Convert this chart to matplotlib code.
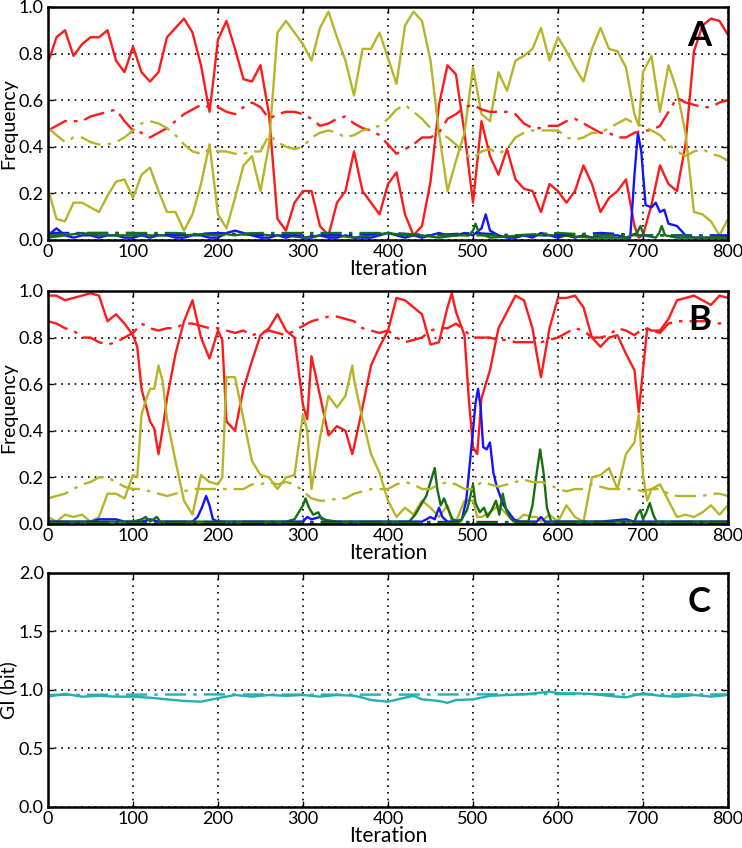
import matplotlib
matplotlib.use("Agg")
import matplotlib.pyplot as plt

plt.rcParams['font.family'] = ['Lato', 'DejaVu Sans']

# ---------------- panel A ----------------
a_iter = sorted(list(range(0, 801, 10)) + [195, 695])
a_red = [0.76, 0.87, 0.90, 0.79, 0.84, 0.87, 0.87, 0.90, 0.77, 0.72,
         0.83, 0.72, 0.68, 0.72, 0.87, 0.91, 0.95, 0.89, 0.75, 0.55,
         0.70, 0.86, 0.94, 0.82, 0.69, 0.68, 0.75, 0.54, 0.09, 0.04,
         0.16, 0.21, 0.21, 0.06, 0.02, 0.16, 0.21, 0.38, 0.21, 0.16,
         0.11, 0.24, 0.29, 0.11, 0.02, 0.06, 0.25, 0.58, 0.75, 0.71,
         0.46, 0.16, 0.51, 0.36, 0.28, 0.39, 0.26, 0.22, 0.21, 0.12,
         0.24, 0.21, 0.16, 0.21, 0.32, 0.24, 0.12, 0.18, 0.21, 0.26,
         0.06, 0.01, 0.02, 0.15, 0.32, 0.24, 0.21, 0.41, 0.81, 0.92,
         0.95, 0.94, 0.88]
a_olive = [0.22, 0.09, 0.08, 0.16, 0.16, 0.14, 0.12, 0.19, 0.25, 0.26,
           0.18, 0.28, 0.31, 0.21, 0.12, 0.12, 0.04, 0.11, 0.24, 0.41,
           0.26, 0.11, 0.05, 0.18, 0.32, 0.36, 0.21, 0.41, 0.89, 0.94,
           0.89, 0.84, 0.77, 0.91, 0.98, 0.87, 0.77, 0.62, 0.82, 0.82,
           0.89, 0.78, 0.67, 0.92, 0.98, 0.94, 0.77, 0.46, 0.21, 0.34,
           0.46, 0.74, 0.54, 0.51, 0.72, 0.64, 0.77, 0.79, 0.82, 0.91,
           0.77, 0.87, 0.81, 0.74, 0.68, 0.82, 0.91, 0.82, 0.81, 0.74,
           0.54, 0.49, 0.72, 0.79, 0.55, 0.75, 0.64, 0.46, 0.12, 0.11,
           0.08, 0.02, 0.09]

dd_iter = list(range(0, 801, 10))
a_red_dd = [0.47, 0.49, 0.51, 0.51, 0.51, 0.53, 0.54, 0.55, 0.56, 0.51,
            0.47, 0.46, 0.44, 0.46, 0.48, 0.51, 0.54, 0.56, 0.58, 0.57,
            0.57, 0.55, 0.54, 0.57, 0.59, 0.57, 0.52, 0.54, 0.55, 0.55,
            0.54, 0.52, 0.49, 0.50, 0.52, 0.53, 0.50, 0.48, 0.47, 0.45,
            0.41, 0.37, 0.39, 0.41, 0.44, 0.44, 0.46, 0.52, 0.54, 0.57,
            0.58, 0.56, 0.55, 0.55, 0.55, 0.54, 0.50, 0.48, 0.48, 0.49,
            0.49, 0.51, 0.52, 0.50, 0.48, 0.46, 0.46, 0.44, 0.44, 0.46,
            0.47, 0.47, 0.49, 0.55, 0.61, 0.59, 0.58, 0.57, 0.57, 0.59,
            0.60]
a_olive_dd = [0.48, 0.45, 0.42, 0.44, 0.44, 0.42, 0.41, 0.41, 0.42, 0.44,
              0.47, 0.50, 0.51, 0.50, 0.48, 0.45, 0.41, 0.38, 0.37, 0.39,
              0.38, 0.38, 0.37, 0.37, 0.38, 0.38, 0.45, 0.42, 0.40, 0.39,
              0.40, 0.44, 0.46, 0.47, 0.46, 0.44, 0.45, 0.47, 0.48, 0.49,
              0.52, 0.56, 0.58, 0.55, 0.52, 0.48, 0.46, 0.44, 0.41, 0.37,
              0.35, 0.38, 0.39, 0.37, 0.39, 0.44, 0.46, 0.47, 0.47, 0.47,
              0.47, 0.44, 0.43, 0.44, 0.46, 0.46, 0.48, 0.50, 0.52, 0.50,
              0.49, 0.47, 0.45, 0.41, 0.38, 0.36, 0.38, 0.39, 0.37, 0.36,
              0.34]

a_blue_x = [0, 10, 20, 30, 40, 50, 60, 70, 80, 90, 100, 110, 120, 130, 140,
            150, 160, 170, 180, 190, 200, 210, 220, 230, 240, 250, 260, 270,
            280, 290, 300, 310, 320, 330, 340, 350, 360, 370, 380, 390, 400,
            410, 420, 430, 440, 450, 460, 470, 480, 490, 500, 510, 515, 520,
            530, 540, 550, 560, 570, 580, 590, 600, 610, 620, 630, 640, 650,
            660, 670, 680, 685, 690, 694, 698, 703, 710, 715, 720, 725, 730,
            740, 745, 750, 760, 770, 780, 790, 800]
a_blue = [0.02, 0.05, 0.02, 0.01, 0.02, 0.02, 0.01, 0.02, 0.02, 0.01, 0.01,
          0.02, 0.01, 0.02, 0.02, 0.01, 0.01, 0.02, 0.02, 0.01, 0.01, 0.03,
          0.04, 0.03, 0.02, 0.01, 0.01, 0.02, 0.01, 0.02, 0.01, 0.01, 0.02,
          0.01, 0.01, 0.02, 0.01, 0.01, 0.01, 0.02, 0.03, 0.02, 0.01, 0.02,
          0.01, 0.02, 0.03, 0.02, 0.02, 0.03, 0.02, 0.05, 0.11, 0.04, 0.02,
          0.01, 0.01, 0.02, 0.01, 0.03, 0.02, 0.01, 0.02, 0.01, 0.02, 0.01,
          0.02, 0.02, 0.02, 0.01, 0.01, 0.28, 0.46, 0.38, 0.15, 0.14, 0.16,
          0.12, 0.13, 0.07, 0.06, 0.04, 0.02, 0.01, 0.01, 0.01, 0.01, 0.02]
a_green_x = [0, 20, 40, 60, 80, 100, 130, 160, 200, 220, 240, 260, 280, 300,
             320, 340, 360, 380, 400, 420, 440, 460, 480, 495, 500, 503, 507,
             520, 560, 600, 640, 680, 693, 697, 701, 715, 719, 722, 726, 740,
             800]
a_green = [0.01, 0.02, 0.03, 0.02, 0.02, 0.02, 0.02, 0.02, 0.03, 0.02, 0.03,
           0.02, 0.02, 0.01, 0.02, 0.02, 0.01, 0.02, 0.03, 0.02, 0.02, 0.01,
           0.02, 0.02, 0.04, 0.07, 0.03, 0.01, 0.02, 0.02, 0.01, 0.01, 0.03,
           0.06, 0.02, 0.01, 0.03, 0.06, 0.02, 0.01, 0.01]
small_dd_x = [0, 50, 100, 150, 200, 250, 300, 350, 400, 450, 500, 550, 600,
              650, 700, 750, 800]
a_blue_dd = [0.03, 0.03, 0.03, 0.02, 0.03, 0.02, 0.02, 0.02, 0.03, 0.02,
             0.03, 0.02, 0.02, 0.03, 0.02, 0.02, 0.02]
a_green_dd = [0.02, 0.03, 0.03, 0.03, 0.02, 0.03, 0.03, 0.03, 0.03, 0.02,
              0.02, 0.02, 0.03, 0.02, 0.02, 0.02, 0.01]

# ---------------- panel B ----------------
b_iter = sorted(list(range(0, 801, 10)) +
                [105, 115, 125, 135, 205, 305, 358, 475, 495, 505, 575, 695, 705])
b_red = [0.98, 0.98, 0.96, 0.97, 0.98, 0.99, 0.98, 0.87, 0.90, 0.86,
         0.81, 0.76, 0.58, 0.51, 0.44, 0.41, 0.30, 0.41, 0.54, 0.73,
         0.87, 0.96, 0.80, 0.71, 0.83, 0.79, 0.44, 0.40, 0.58, 0.70,
         0.81, 0.84, 0.90, 0.83, 0.80, 0.51, 0.45, 0.72, 0.55, 0.38,
         0.42, 0.40, 0.30, 0.33, 0.50, 0.68, 0.76, 0.83,
         0.97, 0.96, 0.93, 0.90, 0.77, 0.78, 0.93, 0.99, 0.91, 0.81,
         0.54, 0.33, 0.30, 0.54, 0.66, 0.84, 0.91, 0.98, 0.96, 0.84,
         0.73, 0.63, 0.84, 0.97, 0.97, 0.98, 0.93, 0.80, 0.76, 0.80,
         0.81, 0.73, 0.66, 0.48, 0.66, 0.84, 0.83, 0.83, 0.88, 0.96,
         0.97, 0.98, 0.96, 0.94, 0.98, 0.97]
b_olive = [0.03, 0.01, 0.04, 0.03, 0.04, 0.01, 0.03, 0.13, 0.13, 0.11,
           0.21, 0.20, 0.47, 0.53, 0.58, 0.58, 0.68, 0.61, 0.45, 0.27,
           0.10, 0.04, 0.21, 0.18, 0.17, 0.20, 0.63, 0.63, 0.45, 0.27,
           0.21, 0.20, 0.15, 0.20, 0.21, 0.47, 0.40, 0.15, 0.37, 0.55,
           0.50, 0.55, 0.68, 0.62, 0.45, 0.30, 0.22, 0.10,
           0.03, 0.07, 0.04, 0.10, 0.07, 0.03, 0.08, 0.01, 0.01, 0.10,
           0.10, 0.10, 0.03, 0.03, 0.05, 0.08, 0.04, 0.01, 0.04, 0.03,
           0.03, 0.01, 0.04, 0.01, 0.08, 0.03, 0.01, 0.20, 0.21, 0.24,
           0.15, 0.30, 0.35, 0.47, 0.21, 0.10, 0.15, 0.17, 0.10, 0.03,
           0.04, 0.03, 0.05, 0.08, 0.04, 0.08]
b_red_dd = [0.87, 0.86, 0.84, 0.83, 0.80, 0.80, 0.78, 0.77, 0.78, 0.80,
            0.82, 0.86, 0.84, 0.83, 0.84, 0.84, 0.86, 0.86, 0.85, 0.84,
            0.84, 0.83, 0.82, 0.83, 0.81, 0.82, 0.83, 0.82, 0.81, 0.83,
            0.85, 0.87, 0.88, 0.89, 0.89, 0.88, 0.87, 0.84, 0.83, 0.82,
            0.83, 0.80, 0.78, 0.79, 0.80, 0.83, 0.84, 0.84, 0.86, 0.83,
            0.80, 0.80, 0.80, 0.79, 0.79, 0.78, 0.78, 0.78, 0.78, 0.79,
            0.80, 0.82, 0.84, 0.83, 0.80, 0.80, 0.81, 0.84, 0.83, 0.81,
            0.84, 0.83, 0.82, 0.86, 0.87, 0.87, 0.87, 0.87, 0.87, 0.86,
            0.87]
b_olive_dd = [0.11, 0.12, 0.13, 0.15, 0.17, 0.18, 0.20, 0.20, 0.18, 0.16,
              0.15, 0.15, 0.14, 0.13, 0.12, 0.13, 0.14, 0.15, 0.15, 0.15,
              0.15, 0.15, 0.15, 0.15, 0.17, 0.17, 0.18, 0.17, 0.18, 0.17,
              0.14, 0.11, 0.10, 0.10, 0.11, 0.11, 0.13, 0.14, 0.15, 0.15,
              0.15, 0.17, 0.18, 0.17, 0.15, 0.15, 0.17, 0.18, 0.17, 0.15,
              0.15, 0.18, 0.17, 0.16, 0.17, 0.18, 0.19, 0.18, 0.18, 0.17,
              0.15, 0.14, 0.15, 0.15, 0.17, 0.16, 0.15, 0.15, 0.15, 0.15,
              0.14, 0.15, 0.15, 0.13, 0.12, 0.12, 0.12, 0.12, 0.13, 0.13,
              0.12]
b_blue_x = [0, 20, 50, 60, 70, 80, 90, 100, 110, 120, 130, 140, 150, 170, 176,
            181, 186, 190, 194, 200, 250, 300, 305, 310, 320, 330, 400, 440,
            450, 455, 460, 464, 470, 480, 487, 492, 496, 500, 503, 506, 509,
            512, 516, 520, 524, 528, 532, 536, 542, 548, 555, 575, 580, 585,
            650, 680, 690, 800]
b_blue = [0.01, 0.01, 0.01, 0.02, 0.02, 0.02, 0.01, 0.01, 0.01, 0.02, 0.01,
          0.01, 0.01, 0.01, 0.03, 0.07, 0.12, 0.08, 0.02, 0.01, 0.01, 0.01,
          0.03, 0.02, 0.03, 0.01, 0.01, 0.01, 0.03, 0.02, 0.07, 0.03, 0.01,
          0.01, 0.02, 0.10, 0.25, 0.40, 0.52, 0.58, 0.50, 0.33, 0.32, 0.35,
          0.22, 0.16, 0.12, 0.08, 0.05, 0.02, 0.01, 0.01, 0.03, 0.01, 0.01,
          0.02, 0.01, 0.01]
b_green_x = [0, 40, 80, 100, 110, 115, 120, 128, 132, 200, 280, 290, 295, 300,
             303, 307, 312, 318, 322, 340, 400, 425, 432, 440, 445, 450, 455,
             458, 462, 466, 470, 476, 485, 493, 497, 500, 503, 508, 513, 517,
             522, 527, 531, 535, 539, 543, 548, 565, 570, 575, 579, 583, 587,
             592, 690, 693, 697, 700, 704, 708, 712, 716, 800]
b_green = [0.01, 0.01, 0.01, 0.01, 0.02, 0.03, 0.01, 0.03, 0.01, 0.01, 0.01,
           0.02, 0.05, 0.08, 0.11, 0.07, 0.04, 0.05, 0.02, 0.01, 0.01, 0.01,
           0.04, 0.09, 0.12, 0.18, 0.24, 0.15, 0.08, 0.11, 0.07, 0.02, 0.01,
           0.06, 0.12, 0.17, 0.09, 0.05, 0.07, 0.03, 0.06, 0.10, 0.04, 0.13,
           0.06, 0.03, 0.01, 0.01, 0.08, 0.22, 0.32, 0.22, 0.07, 0.01, 0.01,
           0.04, 0.06, 0.02, 0.05, 0.09, 0.04, 0.01, 0.01]
b_blue_dd = [0.01, 0.01, 0.01, 0.01, 0.01, 0.01, 0.01, 0.01, 0.01, 0.01,
             0.01, 0.01, 0.01, 0.01, 0.01, 0.01, 0.01]
b_green_dd = [0.005, 0.005, 0.005, 0.005, 0.005, 0.005, 0.005, 0.005, 0.005,
              0.005, 0.005, 0.005, 0.005, 0.005, 0.005, 0.005, 0.005]

# ---------------- panel C ----------------
c_iter = [0, 20, 40, 60, 80, 100, 120, 140, 160, 180, 200, 220, 240, 260, 280,
          300, 320, 340, 360, 370, 380, 400, 420, 430, 440, 460, 470, 480,
          500, 520, 540, 560, 580, 590, 600, 620, 640, 660, 680, 700, 720,
          740, 760, 780, 800]
c_gi = [0.943, 0.966, 0.943, 0.95, 0.943, 0.943, 0.934, 0.92, 0.906, 0.90,
        0.93, 0.957, 0.943, 0.957, 0.95, 0.957, 0.943, 0.957, 0.951, 0.935,
        0.914, 0.90, 0.934, 0.95, 0.92, 0.906, 0.89, 0.914, 0.92, 0.95,
        0.957, 0.963, 0.977, 0.986, 0.971, 0.971, 0.966, 0.95, 0.937, 0.971,
        0.95, 0.943, 0.957, 0.943, 0.957]
c_dd_iter = [0, 100, 200, 300, 400, 500, 600, 700, 800]
c_gi_dd = [0.958, 0.96, 0.962, 0.96, 0.96, 0.962, 0.965, 0.962, 0.962]

RED = '#ff1a1a'
OLIVE = '#b8b428'
BLUE = '#1414ff'
GREEN = '#157015'
CYAN = '#22b0b0'
DD = (0, (9, 3, 1.5, 3))
LW = 1.7


def style_axes(ax, ylim, yticks, ylabel, letter):
    ax.set_xlim(0, 800)
    ax.set_ylim(*ylim)
    ax.set_xticks(range(0, 801, 100))
    ax.set_yticks(yticks)
    ax.set_yticklabels(['%.1f' % t for t in yticks])
    ax.grid(True, color='k', linestyle=(0, (1, 3)), linewidth=1.2)
    ax.tick_params(direction='in', top=True, right=True, length=4,
                   width=1, labelsize=13, pad=3)
    for sp in ax.spines.values():
        sp.set_linewidth(1.8)
    ax.set_xlabel('Iteration', fontsize=15, labelpad=-1)
    ax.set_ylabel(ylabel, fontsize=14, labelpad=1)
    ax.text(0.975, 0.945, letter, transform=ax.transAxes, ha='right',
            va='top', fontsize=25, fontweight='bold')


fig = plt.figure(figsize=(7.42, 8.48), dpi=100)
ax_a = fig.add_axes([0.0647, 0.7170, 0.9164, 0.2748])
ax_b = fig.add_axes([0.0647, 0.3821, 0.9164, 0.2748])
ax_c = fig.add_axes([0.0647, 0.0484, 0.9164, 0.2759])

# A
ax_a.plot(a_iter, a_red, color=RED, lw=LW)
ax_a.plot(a_iter, a_olive, color=OLIVE, lw=LW)
ax_a.plot(a_blue_x, a_blue, color=BLUE, lw=LW)
ax_a.plot(a_green_x, a_green, color=GREEN, lw=LW)
ax_a.plot(dd_iter, a_red_dd, color=RED, lw=LW, linestyle=DD)
ax_a.plot(dd_iter, a_olive_dd, color=OLIVE, lw=LW, linestyle=DD)
ax_a.plot(small_dd_x, a_blue_dd, color=BLUE, lw=LW, linestyle=DD)
ax_a.plot(small_dd_x, a_green_dd, color=GREEN, lw=LW, linestyle=DD)
style_axes(ax_a, (0, 1), [0, 0.2, 0.4, 0.6, 0.8, 1.0], 'Frequency', 'A')

# B
ax_b.plot(b_iter, b_red, color=RED, lw=LW)
ax_b.plot(b_iter, b_olive, color=OLIVE, lw=LW)
ax_b.plot(b_blue_x, b_blue, color=BLUE, lw=LW)
ax_b.plot(b_green_x, b_green, color=GREEN, lw=LW)
ax_b.plot(dd_iter, b_red_dd, color=RED, lw=LW, linestyle=DD)
ax_b.plot(dd_iter, b_olive_dd, color=OLIVE, lw=LW, linestyle=DD)
ax_b.plot(small_dd_x, b_blue_dd, color=BLUE, lw=LW, linestyle=DD)
ax_b.plot(small_dd_x, b_green_dd, color=GREEN, lw=LW, linestyle=DD)
style_axes(ax_b, (0, 1), [0, 0.2, 0.4, 0.6, 0.8, 1.0], 'Frequency', 'B')

# C
ax_c.plot(c_iter, c_gi, color=CYAN, lw=LW)
ax_c.plot(c_dd_iter, c_gi_dd, color=CYAN, lw=LW, linestyle=DD)
style_axes(ax_c, (0, 2), [0, 0.5, 1.0, 1.5, 2.0], 'GI (bit)', 'C')

fig.savefig('out.png', dpi=100)
